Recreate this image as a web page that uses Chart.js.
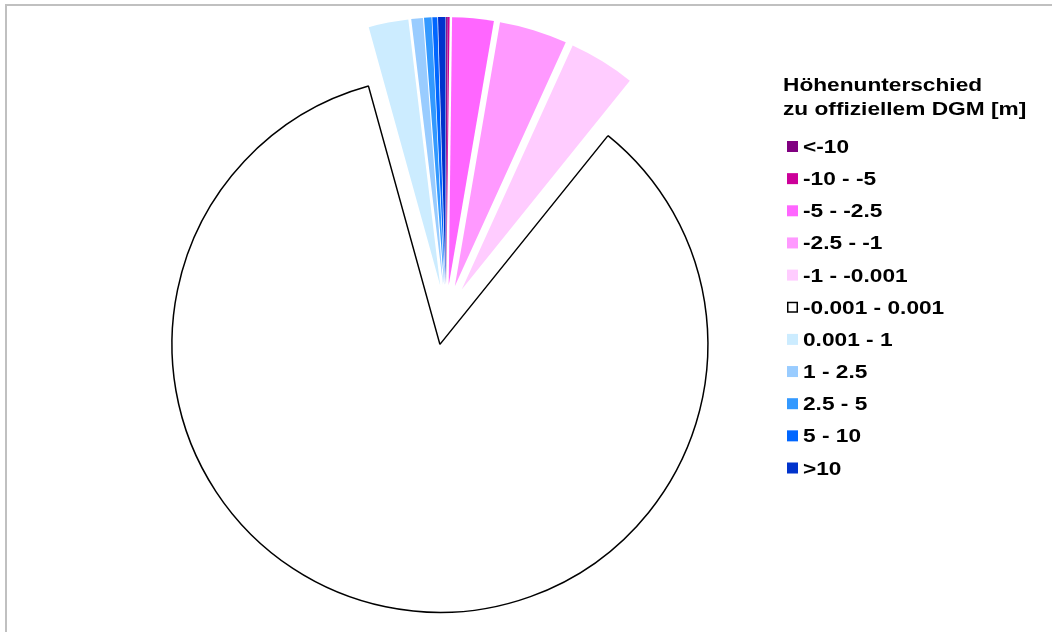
<!DOCTYPE html>
<html>
<head>
<meta charset="utf-8">
<script src="https://cdn.jsdelivr.net/npm/chart.js@4/dist/chart.umd.min.js"></script>
<style>
  html, body { margin: 0; padding: 0; background: #fff; }
  #wrap { position: relative; width: 1052px; height: 632px; overflow: hidden; }
  #frame { position: absolute; left: 5px; top: 4px; width: 1100px; height: 700px;
           border-top: 2px solid #C0C0C0; border-left: 2px solid #C0C0C0; }
  #c { position: absolute; left: 0; top: 0; }
</style>
</head>
<body>
<div id="wrap">
  <div id="frame"></div>
  <canvas id="c" width="1052" height="632"></canvas>
</div>
<script>
const legendTitle = ["Höhenunterschied", "zu offiziellem DGM [m]"];
const categories = ["<-10", "-10 - -5", "-5 - -2.5", "-2.5 - -1", "-1 - -0.001",
                    "-0.001 - 0.001", "0.001 - 1", "1 - 2.5", "2.5 - 5", "5 - 10", ">10"];
const shares = [0.1, 0.1, 2.5, 4.1, 4.0, 85.0, 2.4, 0.7, 0.45, 0.3, 0.45];
const colors = ["#800080", "#CC0099", "#FF66FF", "#FF99FF", "#FFCCFF",
                "#FFFFFF", "#CCECFF", "#99CCFF", "#3399FF", "#0066FF", "#0033CC"];

const EXPLODE = 30;

// Excel-style explosion: move each slice outward along its own mid-angle
const explodePlugin = {
  id: 'explode',
  afterDatasetsUpdate(chart) {
    const meta = chart.getDatasetMeta(0);
    meta.data.forEach(arc => {
      const mid = (arc.startAngle + arc.endAngle) / 2;
      arc.x += Math.cos(mid) * EXPLODE;
      arc.y += Math.sin(mid) * EXPLODE;
    });
  }
};

const legendPlugin = {
  id: 'customLegend',
  afterDraw(chart) {
    const ctx = chart.ctx;
    const sx = 1.26;
    ctx.save();
    ctx.fillStyle = '#000';
    ctx.textBaseline = 'alphabetic';
    ctx.font = 'bold 18px "Liberation Sans", Arial, sans-serif';
    const tb = [91, 115];
    legendTitle.forEach((t, i) => {
      ctx.save();
      ctx.translate(783, tb[i]);
      ctx.scale(sx, 1);
      ctx.fillText(t, 0, 0);
      ctx.restore();
    });
    const ds = chart.data.datasets[0];
    chart.data.labels.forEach((lab, i) => {
      const cy = 146.5 + i * 32.15;
      const col = ds.backgroundColor[i];
      if (col.toUpperCase() === '#FFFFFF') {
        ctx.fillStyle = '#fff';
        ctx.fillRect(787, cy - 5.5, 11, 11);
        ctx.strokeStyle = '#000';
        ctx.lineWidth = 1.5;
        ctx.strokeRect(787.75, cy - 4.75, 9.5, 9.5);
      } else {
        ctx.fillStyle = col;
        ctx.fillRect(787, cy - 5.5, 11, 11);
      }
      ctx.fillStyle = '#000';
      ctx.save();
      ctx.translate(803, cy + 6.5);
      ctx.scale(sx, 1);
      ctx.fillText(lab, 0, 0);
      ctx.restore();
    });
    ctx.restore();
  }
};

new Chart(document.getElementById('c'), {
  type: 'pie',
  data: {
    labels: categories,
    datasets: [{
      data: shares,
      backgroundColor: colors,
      borderColor: categories.map((_, i) => i === 5 ? '#000000' : '#FFFFFF'),
      borderWidth: categories.map((_, i) => i === 5 ? 1.5 : 0)
    }]
  },
  options: {
    responsive: false,
    animation: false,
    events: [],
    radius: 268,
    layout: { padding: { left: 0, right: 160, top: 0, bottom: 2 } },
    plugins: { legend: { display: false }, tooltip: { enabled: false }, title: { display: false } }
  },
  plugins: [explodePlugin, legendPlugin]
});
</script>
</body>
</html>
